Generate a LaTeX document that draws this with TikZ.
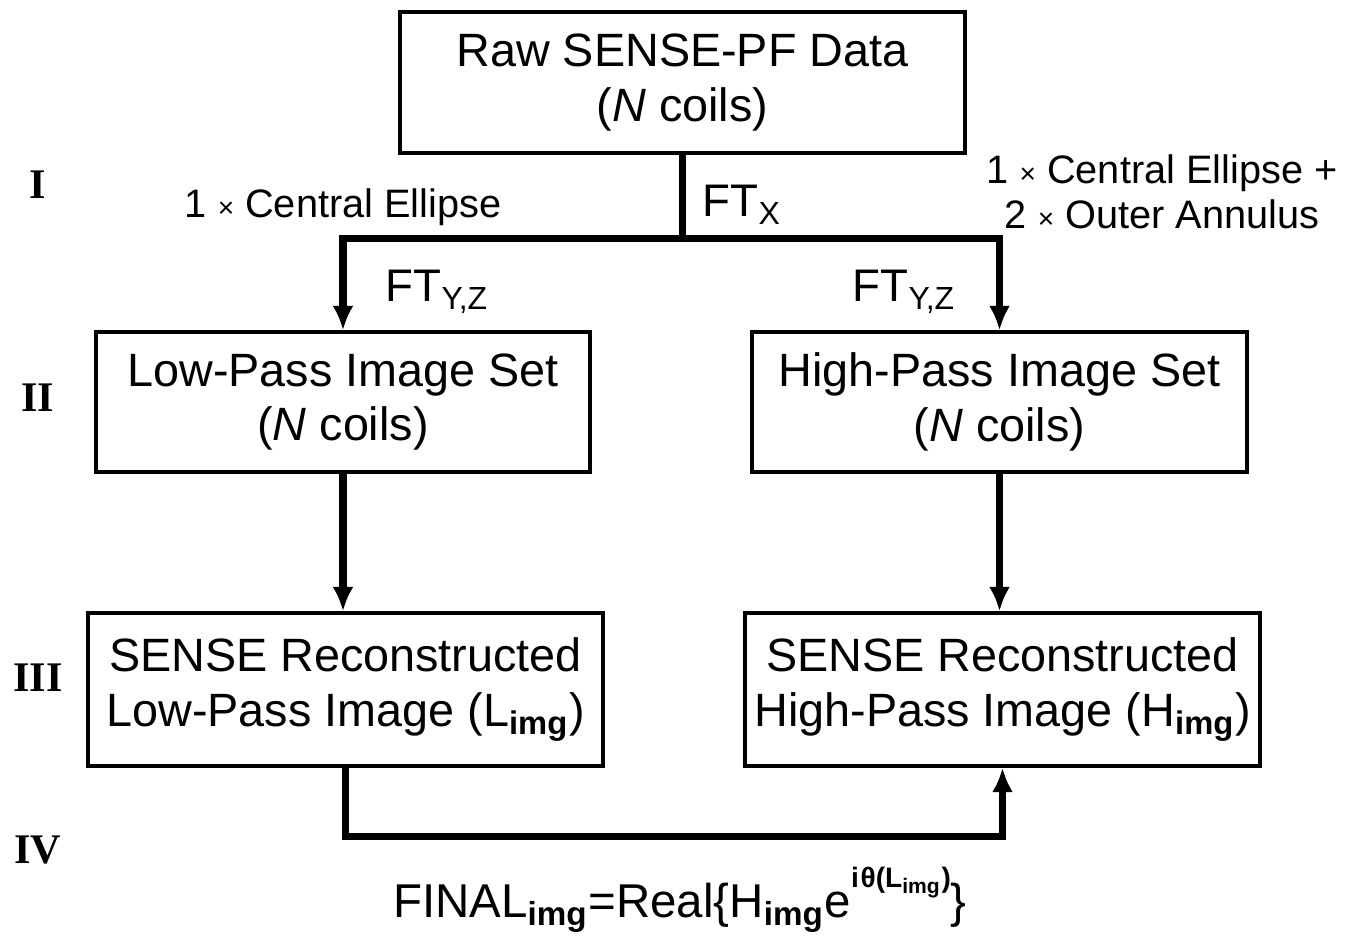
\documentclass[tikz,border=0pt]{standalone}
\usepackage{fontspec}
\setmainfont{Liberation Sans}
\newfontfamily\stagefont{Liberation Serif}
\usetikzlibrary{arrows.meta}
\newcommand{\lowsub}[1]{\textsubscript{#1}}
\newcommand{\imgsub}{\textsubscript{\bfseries img}}
\newcommand{\smalltimes}{{\fontsize{8}{8}\selectfont ×}}

\begin{document}
\begin{tikzpicture}
\tikzstyle{every node}+=[inner sep=0pt]
\tikzstyle{blk}=[draw=black, line width=0.9pt, align=center, font=\fontsize{13.3}{15.6}\selectfont]
\tikzstyle{flow}=[black, line width=2pt]
\tikzstyle{lbl}=[font=\fontsize{11.3}{12.8}\selectfont, align=center]
\tikzstyle{stage}=[font=\stagefont\bfseries\fontsize{12}{14}\selectfont]
\useasboundingbox (0,0) rectangle (13.58,-9.37);
% boxes
\node [blk, minimum width=5.65cm, minimum height=1.41cm] (raw) at (6.825,-0.825) {Raw SENSE-PF Data\\(\textit{N} coils)};
\node [blk, minimum width=4.94cm, minimum height=1.40cm] (lowset) at (3.43,-4.02) {Low-Pass Image Set\\(\textit{N} coils)};
\node [blk, minimum width=4.95cm, minimum height=1.40cm] (highset) at (9.995,-4.02) {High-Pass Image Set\\(\textit{N} coils)};
\node [blk, minimum width=5.15cm, minimum height=1.53cm] (lowimg) at (3.455,-6.895) {SENSE Reconstructed\\Low-Pass Image (L\imgsub)};
\node [blk, minimum width=5.15cm, minimum height=1.53cm] (highimg) at (10.025,-6.895) {SENSE Reconstructed\\High-Pass Image (H\imgsub)};
% stages
\node [stage] (s1) at (0.38,-1.85) {I};
\node [stage] (s2) at (0.38,-3.98) {II};
\node [stage] (s3) at (0.38,-6.78) {III};
\node [stage] (s4) at (0.38,-8.50) {IV};
% connectors
\coordinate (split) at (6.825,-2.38);
\draw [flow] (raw.south) -- (split);
\draw [flow, -{Latex[length=7pt,width=6pt]}] (split) -| (lowset.north);
\draw [flow, -{Latex[length=7pt,width=6pt]}] (split) -| (highset.north);
\draw [flow, -{Latex[length=7pt,width=6pt]}] (lowset.south) -- (lowset.south |- lowimg.north);
\draw [flow, -{Latex[length=7pt,width=6pt]}] (highset.south) -- (highset.south |- highimg.north);
\draw [flow, -{Latex[length=7pt,width=6pt]}] (lowimg.south) -- ++(0,-0.69) -| (highimg.south);
% labels
\node [lbl] (lowmask) at (3.43,-2.07) {1 \smalltimes\ Central Ellipse};
\node [lbl] (highmask) at (11.62,-1.92) {1 \smalltimes\ Central Ellipse +\\2 \smalltimes\ Outer Annulus};
\node [lbl, anchor=west, font=\fontsize{13}{15}\selectfont] (ftx) at (7.02,-2.05) {FT\lowsub{X}};
\node [lbl, anchor=west, font=\fontsize{13}{15}\selectfont] (ftlow) at (3.85,-2.92) {FT\lowsub{Y,Z}};
\node [lbl, anchor=west, font=\fontsize{13}{15}\selectfont] (fthigh) at (8.52,-2.92) {FT\lowsub{Y,Z}};
\node [font=\fontsize{13.5}{16}\selectfont] (final) at (6.8,-9.0) {FINAL\imgsub=Real\{H\imgsub e\raisebox{1.2ex}{\fontsize{8}{9}\selectfont\bfseries i\kern0.5pt θ(L\textsubscript{img})}\}};
\end{tikzpicture}
\end{document}
